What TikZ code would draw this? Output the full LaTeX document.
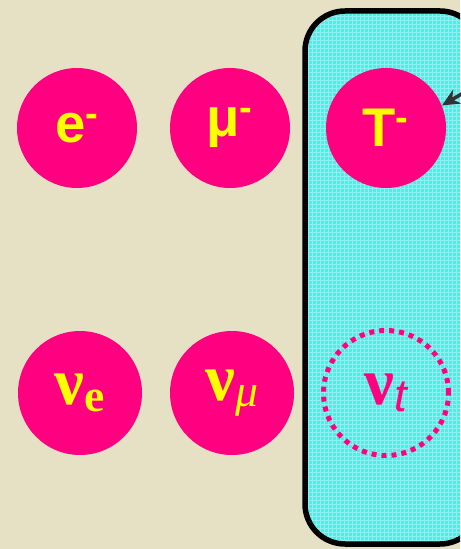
\documentclass[tikz,border=0pt]{standalone}
\usepackage{fontspec}
\setmainfont{Liberation Serif}
\newfontfamily\lepsans{Liberation Sans}
\usetikzlibrary{arrows.meta, positioning}
\definecolor{bgbeige}{RGB}{230,224,196}
\definecolor{leppink}{RGB}{255,0,128}
\definecolor{lepyellow}{RGB}{255,255,0}
\definecolor{boxcyan}{RGB}{80,236,230}
\tikzset{
    lepton/.style={circle, fill=leppink, minimum size=2.4cm, inner sep=0pt, text=lepyellow, font=\lepsans\bfseries\fontsize{31}{31}\selectfont},
    neutrino/.style={circle, fill=leppink, minimum size=2.48cm, inner sep=0pt, text=lepyellow, font=\bfseries\fontsize{38}{38}\selectfont},
    ghost/.style={circle, draw=leppink, line width=0.1cm, dash pattern=on 0.1cm off 0.1cm, minimum size=2.5cm, inner sep=0pt, text=leppink, font=\bfseries\fontsize{38}{38}\selectfont},
    pointer/.style={-{Stealth[length=3.5mm,width=3.2mm]}, line width=0.07cm, black!80},
}
\begin{document}
\begin{tikzpicture}
\useasboundingbox (0,0) rectangle (9.2,-10.98);
\fill[bgbeige] (0,0) rectangle (9.2,-10.98);

% third generation panel
\begin{scope}
\clip (0,0) rectangle (9.2,-10.98);
\fill[boxcyan, rounded corners=0.8cm] (6.1,-0.22) rectangle (9.6,-10.88);
\begin{scope}
\clip[rounded corners=0.8cm] (6.1,-0.22) rectangle (9.6,-10.88);
\draw[white, opacity=0.35, line width=0.4pt, step=0.08cm] (6.1,-10.88) grid (9.6,-0.22);
\end{scope}
\draw[black, line width=0.11cm, rounded corners=0.8cm] (6.1,-0.22) rectangle (9.6,-10.88);
\end{scope}

\node[lepton] (elec) at (1.54,-2.56) {e\textsuperscript{-}};
\node[lepton] (muon) at (4.6,-2.56) {μ\textsuperscript{-}};
\node[lepton] (tau) at (7.72,-2.56) {T\textsuperscript{-}};

\node[neutrino] (nue) at (1.6,-7.86) {ν\raisebox{-0.1em}{\fontsize{26}{26}\selectfont e}};
\node[neutrino] (numu) at (4.64,-7.86) {ν\raisebox{-0.1em}{\fontsize{26}{26}\selectfont\mdseries\itshape μ}};
\node[ghost] (nutau) at (7.72,-7.86) {ν\raisebox{-0.1em}{\lepsans\fontsize{26}{26}\selectfont\mdseries\itshape t}};

\coordinate (ptrstart) at (9.3,-1.84);
\draw[pointer] (ptrstart) -- (tau.22);
\end{tikzpicture}
\end{document}
